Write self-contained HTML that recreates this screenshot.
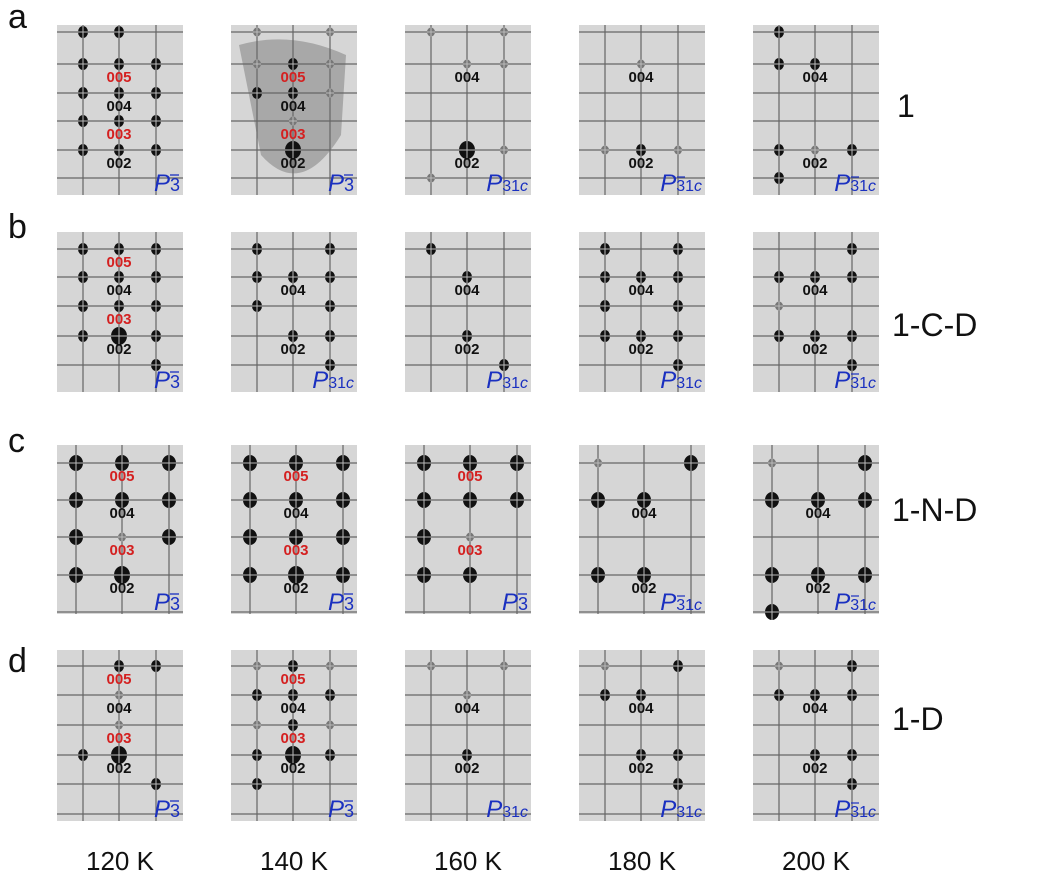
<!DOCTYPE html>
<html><head><meta charset="utf-8"><style>
body{margin:0;background:#fff;width:1039px;height:893px;overflow:hidden}
svg{display:block}
</style></head><body>
<svg id="s" width="1039" height="893" xmlns="http://www.w3.org/2000/svg" font-family="Liberation Sans, sans-serif">
<g font-size="34" fill="#111">
<text x="8" y="28">a</text><text x="8" y="238">b</text><text x="8" y="452">c</text><text x="8" y="672">d</text>
</g>
<g font-size="32" fill="#111">
<text x="897" y="117">1</text><text x="892" y="336">1-C-D</text><text x="892" y="521">1-N-D</text><text x="892" y="730">1-D</text>
</g>
<g font-size="26" fill="#111" text-anchor="middle">
<text x="120" y="870">120 K</text><text x="294" y="870">140 K</text><text x="468" y="870">160 K</text><text x="642" y="870">180 K</text><text x="816" y="870">200 K</text>
</g>
<g id="p"></g>
</svg>
<script>
var rows=[
 {y:25,h:170,hl:[7,39,68,96,125,153],vl:[26,62,99]},
 {y:232,h:160,hl:[17,45,74,104,133],vl:[26,62,99]},
 {y:445,h:169,hl:[18,55,92,130,167],vl:[19,65,112]},
 {y:650,h:171,hl:[16,45,75,105,134,164],vl:[26,62,99]}];
var xs=[57,231,405,579,753];
var P=[
[{s:"0:LC 1:LCR 2:LCR 3:LCR 4:LCR",l:{"005":1,"004":2,"003":3,"002":4},g:0},
 {s:"0:lr 1:lCr 2:LCr 3:c 4:B",l:{"005":1,"004":2,"003":3,"002":4},g:0,bg:1},
 {s:"0:lr 1:cr 4:Br 5:l",l:{"004":1,"002":4},g:1},
 {s:"1:c 4:lCr",l:{"004":1,"002":4},g:1},
 {s:"0:L 1:LC 4:LcR 5:L",l:{"004":1,"002":4},g:1}],
[{s:"0:LCR 1:LCR 2:LCR 3:LBR 4:R",l:{"005":0,"004":1,"003":2,"002":3},g:0},
 {s:"0:LR 1:LCR 2:LR 3:CR 4:R",l:{"004":1,"002":3},g:1},
 {s:"0:L 1:C 3:C 4:R",l:{"004":1,"002":3},g:1},
 {s:"0:LR 1:LCR 2:LR 3:LCR 4:R",l:{"004":1,"002":3},g:1},
 {s:"0:R 1:LCR 2:l 3:LCR 4:R",l:{"004":1,"002":3},g:1}],
[{s:"0:LCR 1:LCR 2:LcR 3:LB",l:{"005":0,"004":1,"003":2,"002":3},g:0},
 {s:"0:LCR 1:LCR 2:LCR 3:LBR",l:{"005":0,"004":1,"003":2,"002":3},g:0},
 {s:"0:LCR 1:LCR 2:Lc 3:LC",l:{"005":0,"003":2},g:0},
 {s:"0:lR 1:LC 3:LC",l:{"004":1,"002":3},g:1},
 {s:"0:lR 1:LCR 3:LCR 4:L",l:{"004":1,"002":3},g:1}],
[{s:"0:CR 1:c 2:c 3:LB 4:R",l:{"005":0,"004":1,"003":2,"002":3},g:0},
 {s:"0:lCr 1:LCR 2:lCr 3:LBR 4:L",l:{"005":0,"004":1,"003":2,"002":3},g:0},
 {s:"0:lr 1:c 3:C",l:{"004":1,"002":3},g:1},
 {s:"0:lR 1:LC 3:CR 4:R",l:{"004":1,"002":3},g:1},
 {s:"0:lR 1:LCR 3:CR 4:R",l:{"004":1,"002":3},g:1}]];
var h="";
rows.forEach(function(R,ri){xs.forEach(function(x0,ci){
 var p=P[ri][ci],y0=R.y,w=126;
 h+='<rect x="'+x0+'" y="'+y0+'" width="'+w+'" height="'+R.h+'" fill="#d6d6d6"/>';
 if(p.bg)h+='<path d="M'+(x0+8)+' '+(y0+20)+' Q'+(x0+60)+' '+(y0+5)+' '+(x0+115)+' '+(y0+30)+' L'+(x0+110)+' '+(y0+110)+' Q'+(x0+70)+' '+(y0+175)+' '+(x0+30)+' '+(y0+130)+' Z" fill="#a8a8a8"/>';
 R.vl.forEach(function(v){h+='<line x1="'+(x0+v)+'" y1="'+y0+'" x2="'+(x0+v)+'" y2="'+(y0+R.h)+'" stroke="#666" stroke-width="1.2"/>';});
 R.hl.forEach(function(v){h+='<line x1="'+x0+'" y1="'+(y0+v)+'" x2="'+(x0+w)+'" y2="'+(y0+v)+'" stroke="#666" stroke-width="1.2"/>';});
 p.s.split(" ").forEach(function(t){var a=t.split(":"),r=+a[0];a[1].split("").forEach(function(c){
  var ci2={L:0,C:1,R:2,B:1}[c.toUpperCase()],cx=x0+R.vl[ci2],cy=y0+R.hl[r];
  var grey=c!==c.toUpperCase(),big=c=="B";
  var rx=big?8:(ri==2?7:5),ry=big?9:(ri==2?8:6);if(grey){rx=4;ry=4.5;}
  h+='<ellipse cx="'+cx+'" cy="'+cy+'" rx="'+rx+'" ry="'+ry+'" fill="'+(grey?'#777':'#111')+'"/>';
  h+='<line x1="'+(cx-rx)+'" y1="'+cy+'" x2="'+(cx+rx)+'" y2="'+cy+'" stroke="#bbb" stroke-width="1"/><line x1="'+cx+'" y1="'+(cy-ry)+'" x2="'+cx+'" y2="'+(cy+ry)+'" stroke="#bbb" stroke-width="1"/>';
 });});
 for(var k in p.l){var cy=y0+R.hl[p.l[k]]+13,col=(k=="005"||k=="003")?"#d42020":"#111";
  h+='<text x="'+(x0+R.vl[1])+'" y="'+(cy+5)+'" font-size="15" font-weight="bold" text-anchor="middle" fill="'+col+'">'+k+'</text>';}
 var bx=x0+w-3,by=y0+R.h-4;
 if(p.g==0){h+='<text x="'+bx+'" y="'+by+'" text-anchor="end" fill="#1a30c0" font-size="24" font-style="italic">P<tspan font-style="normal" font-size="18">3</tspan></text>';
  h+='<line x1="'+(bx-10)+'" y1="'+(by-16)+'" x2="'+(bx-1)+'" y2="'+(by-16)+'" stroke="#1a30c0" stroke-width="1.3"/>';}
 else{h+='<text x="'+bx+'" y="'+by+'" text-anchor="end" fill="#1a30c0" font-size="24" font-style="italic">P<tspan font-style="normal" font-size="16">31</tspan><tspan font-size="16">c</tspan></text>';
  if(ri==0&&ci>2||ri==1&&ci==4||ri==2&&ci>2||ri==3&&ci==4)h+='<line x1="'+(bx-25)+'" y1="'+(by-14)+'" x2="'+(bx-17)+'" y2="'+(by-14)+'" stroke="#1a30c0" stroke-width="1.2"/>';}
});});
document.getElementById("p").innerHTML=h;
</script>
</body></html>
